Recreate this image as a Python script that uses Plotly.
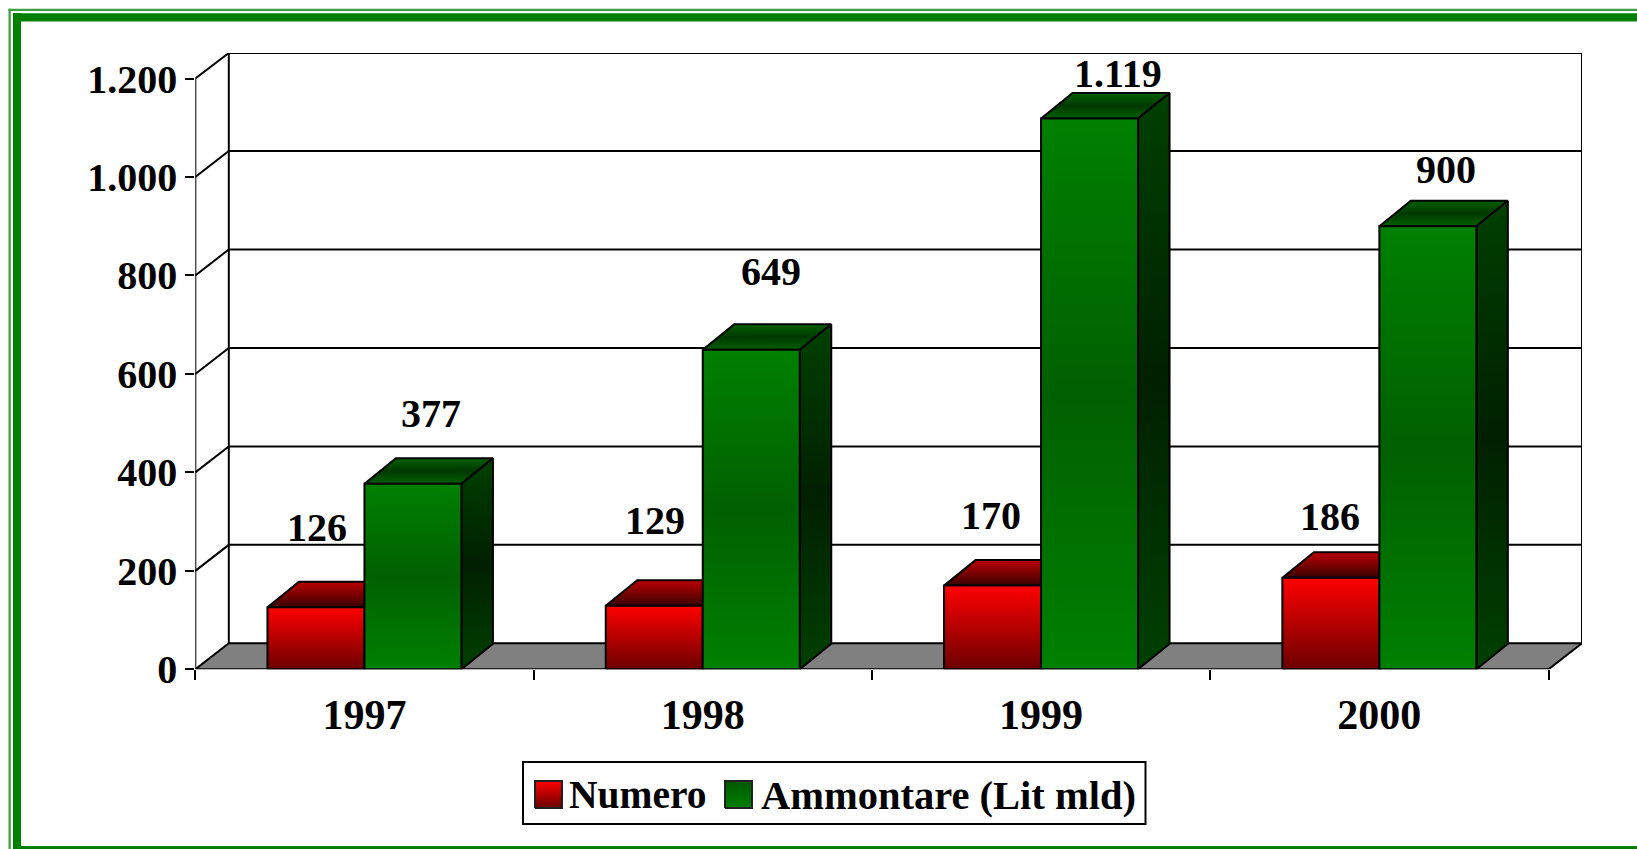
import plotly.graph_objects as go

# ---- data -------------------------------------------------------------
years = ["1997", "1998", "1999", "2000"]
numero = [126, 129, 170, 186]
ammontare = [377, 649, 1119, 900]
value_labels_numero = ["126", "129", "170", "186"]
value_labels_ammontare = ["377", "649", "1.119", "900"]
y_ticks = [0, 200, 400, 600, 800, 1000, 1200]
y_tick_labels = ["0", "200", "400", "600", "800", "1.000", "1.200"]
legend_names = ["Numero", "Ammontare (Lit mld)"]

# ---- geometry / styles ------------------------------------------------
W, H = 1637, 849
PX_L, PX_R, PX_T, PX_B = 195.3, 1582.0, 53.0, 669.3
PX_PER_UNIT = 98.46 / 200
Y_TOP = (PX_B - PX_T) / PX_PER_UNIT
CAT_PX = 338.3
DX = 33.5 / CAT_PX
DY = 26.0 / PX_PER_UNIT
BAR_DX = 31.5 / CAT_PX
BAR_DY = 25.5 / PX_PER_UNIT
BAR = 97.0 / CAT_PX
X_MIN, X_MAX = -0.5, 3.5 + DX
FONT = "Liberation Serif"
BLACK = "#000000"
LW = 2

RED_FRONT = [[0, "#6c0000"], [1, "#ff0000"]]
RED_TOP = [[0, "#3a0000"], [1, "#bb0000"]]
RED_SIDE = [[0, "#300000"], [0.5, "#200000"], [1, "#400000"]]
GREEN_FRONT = [[0, "#008000"], [0.5, "#006000"], [1, "#008000"]]
GREEN_SIDE = [[0, "#004000"], [0.5, "#002000"], [1, "#004000"]]
GREEN_TOP = [[0, "#006000"], [0.5, "#003800"], [1, "#006000"]]

# label nudges in pixels: (x, y) from the bar's front top centre
nudge_numero = [(1, 80), (1, 85), (-2, 70), (-1, 61)]
nudge_ammontare = [(18, 70), (20, 78), (28, 45), (18, 57)]

fig = go.Figure()


def poly(xs, ys, scale=None, fill=None, name=None):
    kw = {}
    if scale is not None:
        kw["fillgradient"] = dict(type="vertical", colorscale=scale)
    if fill is not None:
        kw["fillcolor"] = fill
    fig.add_trace(go.Scatter(
        x=xs, y=ys, mode="lines", fill="toself" if (scale or fill) else "none",
        line=dict(color=BLACK, width=LW), hoverinfo="skip", showlegend=False,
        cliponaxis=False, name=name, **kw))


def box(x0, v, front, side, top, name):
    x1 = x0 + BAR
    poly([x0, x1, x1 + BAR_DX, x0 + BAR_DX, x0], [v, v, v + BAR_DY, v + BAR_DY, v], top, name=name)
    poly([x1, x1 + BAR_DX, x1 + BAR_DX, x1, x1], [0, BAR_DY, v + BAR_DY, v, 0], side, name=name)
    poly([x0, x1, x1, x0, x0], [0, 0, v, v, 0], front, name=name)


# walls and grid
poly([X_MIN, X_MIN], [0, 1200])
poly([X_MIN + DX, X_MIN + DX, X_MAX, X_MAX], [DY, Y_TOP, Y_TOP, DY])
for t in y_ticks[1:-1]:
    poly([X_MIN, X_MIN + DX, X_MAX], [t, t + DY, t + DY])
poly([X_MIN, X_MIN + DX], [1200, Y_TOP])
# floor
poly([X_MIN, X_MAX - DX, X_MAX, X_MIN + DX, X_MIN], [0, 0, DY, DY, 0], fill="#808080")

# bars
for i in range(len(years)):
    box(i - BAR, numero[i], RED_FRONT, RED_SIDE, RED_TOP, legend_names[0])
    box(i, ammontare[i], GREEN_FRONT, GREEN_SIDE, GREEN_TOP, legend_names[1])

annotations = []
for i in range(len(years)):
    for val, txt, nud, xc in (
        (numero[i], value_labels_numero[i], nudge_numero[i], i - BAR / 2),
        (ammontare[i], value_labels_ammontare[i], nudge_ammontare[i], i + BAR / 2),
    ):
        annotations.append(dict(
            x=xc, y=val, xref="x", yref="y", text=txt, showarrow=False,
            xshift=nud[0], yshift=nud[1], xanchor="center", yanchor="middle",
            font=dict(family=FONT, size=40, color=BLACK, weight="bold")))


# ---- page furniture in pixel coordinates on an overlay axis ------------
def page_rect(x0, y0, x1, y1, color):
    return dict(type="rect", xref="x2", yref="y2", x0=x0, y0=y0, x1=x1, y1=y1,
                fillcolor=color, line=dict(width=0), layer="below")


THIN = "#3f9f3f"
THICK = "#008000"
shapes = [
    page_rect(8.5, 8.7, W, 11, THIN),
    page_rect(8.5, 8.7, 10.8, H, THIN),
    page_rect(13, 13.3, W, 21.5, THICK),
    page_rect(13, 13.3, 21, H, THICK),
    page_rect(13, 846, W, H, THICK),
    dict(type="rect", xref="x2", yref="y2", x0=523, y0=762, x1=1145.5, y1=824,
         fillcolor="#ffffff", line=dict(color=BLACK, width=2), layer="below"),
]


def swatch(x0, scale):
    y0, y1 = 781, 808
    fig.add_trace(go.Scatter(
        x=[x0, x0 + 27, x0 + 27, x0, x0], y=[y1, y1, y0, y0, y1], xaxis="x2", yaxis="y2",
        mode="lines", fill="toself", fillgradient=dict(type="vertical", colorscale=scale),
        line=dict(color="#202020", width=2), hoverinfo="skip", showlegend=False))


swatch(535, [[0, "#680000"], [1, "#ff0000"]])
swatch(725, [[0, "#008000"], [1, "#005800"]])

for x, name, size in ((567, legend_names[0], 39.5), (759, legend_names[1], 40.5)):
    annotations.append(dict(
        x=x, y=795, xref="x2", yref="y2", text=name, showarrow=False,
        xanchor="left", yanchor="middle",
        font=dict(family=FONT, size=size, color=BLACK, weight="bold")))

fig.update_layout(
    width=W, height=H, autosize=False,
    margin=dict(l=0, r=0, t=0, b=0, pad=0),
    paper_bgcolor="#ffffff", plot_bgcolor="rgba(0,0,0,0)",
    showlegend=False, shapes=shapes, annotations=annotations,
    xaxis=dict(
        domain=[PX_L / W, PX_R / W], range=[X_MIN, X_MAX], anchor="y", automargin=False,
        tickmode="array", tickvals=list(range(len(years))), ticktext=years,
        ticks="", showgrid=False, zeroline=False, showline=False,
        ticklabelstandoff=17,
        tickfont=dict(family=FONT, size=42, color=BLACK, weight="bold"),
        minor=dict(tickmode="array", tickvals=[-0.5, 0.5, 1.5, 2.5, 3.5], ticks="outside",
                   ticklen=10, tickwidth=LW, tickcolor=BLACK, showgrid=False),
    ),
    yaxis=dict(
        domain=[1 - PX_B / H, 1 - PX_T / H], range=[0, Y_TOP], anchor="x", automargin=False,
        tickmode="array", tickvals=y_ticks, ticktext=y_tick_labels,
        ticks="outside", ticklen=9, tickwidth=LW, tickcolor=BLACK,
        showgrid=False, zeroline=False, showline=False,
        tickfont=dict(family=FONT, size=40, color=BLACK, weight="bold"),
    ),
    xaxis2=dict(domain=[0, 1], range=[0, W], anchor="y2", visible=False, fixedrange=True, automargin=False),
    yaxis2=dict(domain=[0, 1], range=[H, 0], anchor="x2", visible=False, fixedrange=True, automargin=False),
)

fig.write_html(
    "out.html",
    config={"displayModeBar": False},
    post_script="document.body.style.margin='0';document.body.style.overflow='hidden';",
)
